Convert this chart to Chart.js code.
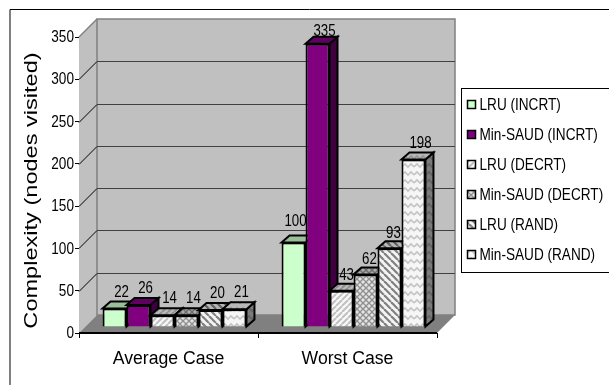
<!DOCTYPE html>
<html>
<head>
<title>Complexity</title>
<script src="https://cdn.jsdelivr.net/npm/chart.js@4"></script>
<style>
  body { margin: 0; background: #fff; }
  #wrap { width: 609px; height: 385px; }
</style>
</head>
<body>
<div id="wrap"><canvas id="cv"></canvas></div>
<script>
var categories = ['Average Case', 'Worst Case'];
var seriesNames = ['LRU (INCRT)', 'Min-SAUD (INCRT)', 'LRU (DECRT)', 'Min-SAUD (DECRT)', 'LRU (RAND)', 'Min-SAUD (RAND)'];
var lruIncrt = [22, 100];
var minSaudIncrt = [26, 335];
var lruDecrt = [14, 43];
var minSaudDecrt = [14, 62];
var lruRand = [20, 93];
var minSaudRand = [21, 198];
var yTicks = [0, 50, 100, 150, 200, 250, 300, 350];
var axisTitle = 'Complexity (nodes visited)';

var FONT = '"Liberation Sans", Arial, sans-serif';
var WALL = 18;      // depth of the box
var SHIFT = 6;      // bars stand a bit behind the front edge
var BAR_D = 8;      // depth of one bar
var BAR_DY = 7;

// a few value labels in the second group sit off the usual spot: series index -> [dx, dy]
var worstLabelNudge = { 0: [-5, -5], 1: [0, 4.5], 2: [-2, 1.5], 3: [-3, 1.5], 4: [-3, 1.5] };

// small tiled fills for the hatched series
function tile(w, h, bg, paint) {
	var c = document.createElement('canvas');
	c.width = w; c.height = h;
	var g = c.getContext('2d');
	g.fillStyle = bg;
	g.fillRect(0, 0, w, h);
	paint(g);
	return g.createPattern(c, 'repeat');
}
function diag(g, size, color, width, back) {
	g.strokeStyle = color;
	g.lineWidth = width;
	for (var i = -size; i <= size; i += size) {
		g.beginPath();
		if (back) { g.moveTo(i, 0); g.lineTo(i + size, size); }
		else { g.moveTo(i, size); g.lineTo(i + size, 0); }
		g.stroke();
	}
}
var fills = [
	'#ccffcc',
	'#800080',
	tile(6, 6, '#f8f8f8', function (g) { diag(g, 6, '#c0c0c0', 2, false); }),
	tile(6, 6, '#e4e4e4', function (g) { diag(g, 6, '#909090', 1.3, false); diag(g, 6, '#909090', 1.3, true); }),
	tile(7, 7, '#f4f4f4', function (g) { diag(g, 7, '#808080', 2.2, true); }),
	tile(12, 8, '#f6f6f6', function (g) {
		g.strokeStyle = '#c4c4c4';
		g.lineWidth = 1.6;
		g.beginPath();
		g.moveTo(0, 5); g.lineTo(3, 2); g.lineTo(6, 5); g.lineTo(9, 2); g.lineTo(12, 5);
		g.stroke();
	})
];

function poly(ctx, pts, fill, stroke, lw) {
	ctx.beginPath();
	ctx.moveTo(pts[0][0], pts[0][1]);
	for (var i = 1; i < pts.length; i++) ctx.lineTo(pts[i][0], pts[i][1]);
	ctx.closePath();
	if (fill) { ctx.fillStyle = fill; ctx.fill(); }
	if (stroke) { ctx.strokeStyle = stroke; ctx.lineWidth = lw || 1; ctx.stroke(); }
}

// text squeezed or stretched along its baseline
function label(ctx, text, x, y, size, sx, align) {
	ctx.save();
	ctx.translate(x, y);
	ctx.scale(sx, 1);
	ctx.font = size + 'px ' + FONT;
	ctx.fillStyle = '#000000';
	ctx.textAlign = align;
	ctx.textBaseline = 'middle';
	ctx.fillText(text, 0, 0);
	ctx.restore();
}

var boxPlugin = {
	id: 'box',
	// page frame
	beforeDraw: function (chart) {
		var ctx = chart.ctx;
		ctx.save();
		ctx.fillStyle = '#ffffff';
		ctx.fillRect(0, 0, chart.width, chart.height);
		ctx.strokeStyle = '#808080';
		ctx.lineWidth = 2;
		ctx.beginPath();
		ctx.moveTo(10, 385); ctx.lineTo(10, 9.5);
		ctx.stroke();
		ctx.strokeStyle = '#000000';
		ctx.lineWidth = 1;
		ctx.beginPath();
		ctx.moveTo(10, 9.5); ctx.lineTo(609, 9.5);
		ctx.stroke();
		ctx.restore();
	},
	// side wall, back wall, floor
	beforeDatasetsDraw: function (chart) {
		var ctx = chart.ctx, a = chart.chartArea, y = chart.scales.y;
		var l = a.left, r = a.right, t = a.top, b = a.bottom;
		ctx.save();
		poly(ctx, [[l, b], [l + WALL, b - WALL], [l + WALL, t - WALL], [l, t]], '#c0c0c0');
		poly(ctx, [[l + WALL, b - WALL], [r + WALL, b - WALL], [r + WALL, t - WALL], [l + WALL, t - WALL]], '#c0c0c0', '#808080', 1.5);
		poly(ctx, [[l, b], [l + WALL, b - WALL], [r + WALL, b - WALL], [r, b]], '#808080');
		ctx.strokeStyle = '#808080';
		ctx.lineWidth = 1.5;
		ctx.beginPath();
		ctx.moveTo(l, t); ctx.lineTo(l + WALL, t - WALL);
		ctx.stroke();
		yTicks.forEach(function (v) {
			if (v === 0 || v === 350) return;
			var py = Math.round(y.getPixelForValue(v)) + 0.5;
			ctx.strokeStyle = '#000000';
			ctx.lineWidth = 1;
			ctx.beginPath();
			ctx.moveTo(l, py); ctx.lineTo(l + WALL, py - WALL);
			ctx.stroke();
			ctx.strokeStyle = '#404040';
			ctx.beginPath();
			ctx.moveTo(l + WALL, py - WALL); ctx.lineTo(r + WALL, py - WALL);
			ctx.stroke();
		});
		ctx.restore();
	},
	// the library paints the last series first; here the later series must overlap the earlier one
	beforeDatasetDraw: function () {
		return false;
	},
	afterDatasetsDraw: function (chart) {
		var ctx = chart.ctx;
		chart.data.datasets.forEach(function (ds, i) {
			var meta = chart.getDatasetMeta(i);
			ctx.save();
			ctx.translate(SHIFT, -SHIFT);
			meta.data.forEach(function (bar) {
				var p = bar.getProps(['x', 'y', 'base', 'width'], true);
				var x0 = p.x - p.width / 2, x1 = p.x + p.width / 2;
				var side = [[x1, p.y], [x1 + BAR_D, p.y - BAR_DY], [x1 + BAR_D, p.base - BAR_DY], [x1, p.base]];
				var top = [[x0, p.y], [x0 + BAR_D, p.y - BAR_DY], [x1 + BAR_D, p.y - BAR_DY], [x1, p.y]];
				poly(ctx, side, fills[i]);
				poly(ctx, side, 'rgba(0,0,0,0.5)', '#000000', 2);
				poly(ctx, top, fills[i]);
				poly(ctx, top, 'rgba(0,0,0,0.25)', '#000000', 2);
			});
			meta.controller.draw();
			ctx.restore();
			meta.data.forEach(function (bar, k) {
				var p = bar.getProps(['x', 'y'], true);
				var n = (k === 1 && worstLabelNudge[i]) || [0, 0];
				label(ctx, String(ds.data[k]), p.x + SHIFT + 7 + n[0], p.y - SHIFT - 16.5 + n[1], 17, 0.78, 'center');
			});
		});
	},
	// axis texts, heavy front edge, legend
	afterDraw: function (chart) {
		var ctx = chart.ctx, a = chart.chartArea, sx = chart.scales.x, sy = chart.scales.y;
		ctx.save();
		ctx.strokeStyle = '#000000';
		ctx.lineWidth = 2;
		ctx.beginPath();
		ctx.moveTo(a.left, a.bottom); ctx.lineTo(a.right, a.bottom);
		ctx.stroke();

		yTicks.forEach(function (v) {
			label(ctx, String(v), a.left - 5, sy.getPixelForValue(v) + 0.5, 17, 0.8, 'right');
		});
		categories.forEach(function (c, i) {
			label(ctx, c, sx.getPixelForTick(i), 359.5, 18, 0.98, 'center');
		});
		ctx.save();
		ctx.translate(31.5, 190.5);
		ctx.rotate(-Math.PI / 2);
		label(ctx, axisTitle, 0, 0, 19, 1.24, 'center');
		ctx.restore();

		ctx.fillStyle = '#ffffff';
		ctx.fillRect(461.5, 88.5, 147.5, 184);
		ctx.strokeStyle = '#000000';
		ctx.lineWidth = 1;
		ctx.strokeRect(461.5, 88.5, 148, 184);
		seriesNames.forEach(function (name, i) {
			var cy = 105 + i * 30;
			ctx.fillStyle = fills[i];
			ctx.fillRect(467.5, cy - 4.5, 8, 8);
			ctx.strokeStyle = '#000000';
			ctx.lineWidth = 1.5;
			ctx.strokeRect(467.5, cy - 4.5, 8, 8);
			label(ctx, name, 479.5, cy, 17, 0.8, 'left');
		});
		ctx.restore();
	}
};

var values = [lruIncrt, minSaudIncrt, lruDecrt, minSaudDecrt, lruRand, minSaudRand];
var chart = new Chart(document.getElementById('cv').getContext('2d'), {
	type: 'bar',
	data: {
		labels: categories,
		datasets: seriesNames.map(function (name, i) {
			return {
				label: name,
				data: values[i],
				backgroundColor: fills[i],
				borderColor: '#000000',
				borderWidth: 2,
				clip: false
			};
		})
	},
	options: {
		responsive: true,
		maintainAspectRatio: false,
		animation: false,
		categoryPercentage: 0.804,
		barPercentage: 1,
		layout: { padding: { left: 21, right: 172, top: 37, bottom: 0 } },
		plugins: { legend: { display: false }, tooltip: { enabled: false } },
		scales: {
			x: {
				grid: { drawOnChartArea: false, color: '#000000', tickLength: 5 },
				border: { color: '#000000' },
				ticks: { display: false },
				afterFit: function (s) { s.height = 52; }
			},
			y: {
				min: 0,
				max: 350,
				afterBuildTicks: function (s) { s.ticks = yTicks.map(function (v) { return { value: v }; }); },
				grid: { drawOnChartArea: false, color: '#000000', tickLength: 4 },
				border: { color: '#000000' },
				ticks: { display: false },
				afterFit: function (s) { s.width = 58; }
			}
		}
	},
	plugins: [boxPlugin]
});
</script>
</body>
</html>
